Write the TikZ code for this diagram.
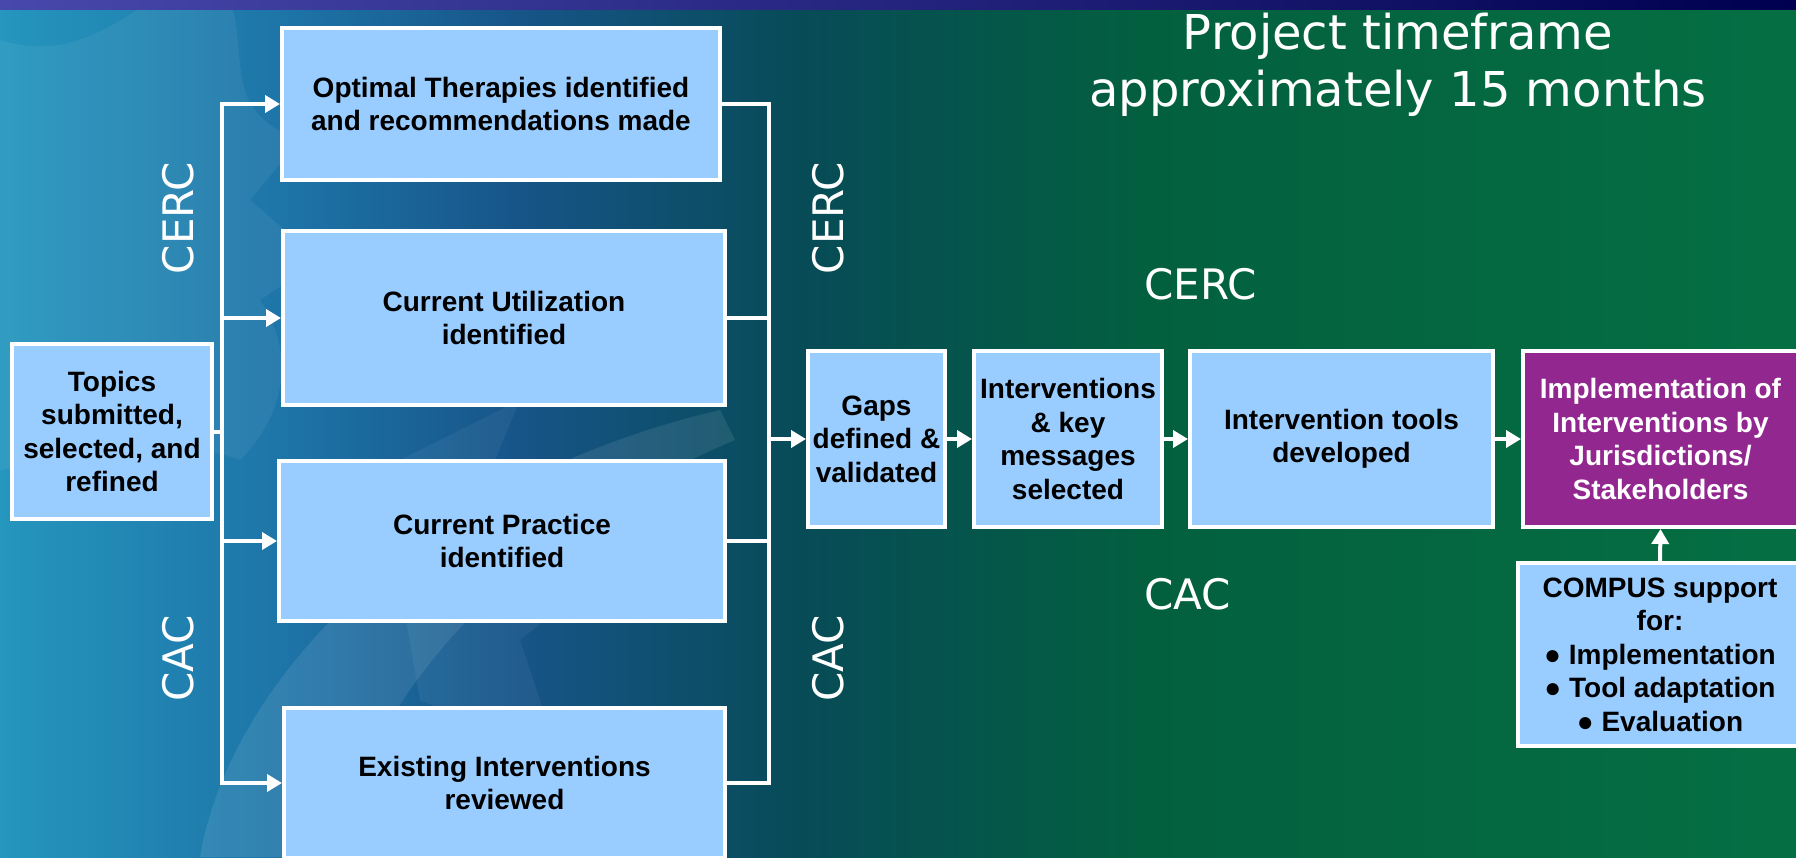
\documentclass[tikz,border=0pt]{standalone}
\usepackage{fontspec}
\setmainfont{Liberation Sans}
\newfontfamily\dejavu{DejaVu Sans}
\usetikzlibrary{arrows.meta}

\definecolor{boxblue}{HTML}{99CCFF}
\definecolor{implpurple}{HTML}{92278F}
\definecolor{bgA}{HTML}{2596BE}
\definecolor{bgB}{HTML}{1D72A6}
\definecolor{bgC}{HTML}{175488}
\definecolor{bgD}{HTML}{074B57}
\definecolor{bgE}{HTML}{03603F}
\definecolor{bgF}{HTML}{056F43}
\definecolor{bandL}{HTML}{4848AC}
\definecolor{bandM}{HTML}{1A1A80}
\definecolor{bandR}{HTML}{000050}

\newcommand\flowfont{\fontsize{28}{33.5}\selectfont\bfseries}
\newcommand\sidefont{\dejavu\fontsize{42}{50}\selectfont}
\newcommand\titlefont{\dejavu\fontsize{48}{57}\selectfont}

\tikzset{
  stagebox/.style={draw=white, line width=4pt, fill=boxblue, inner sep=0pt,
    align=center, font=\flowfont, text=black},
  flow/.style={draw=white, line width=4pt, line cap=rect},
  flowarrow/.style={draw=white, line width=4pt,
    -{Triangle[length=15pt,width=17pt]}},
  sidelabel/.style={text=white, font=\sidefont, inner sep=0pt},
}

\begin{document}
\begin{tikzpicture}[x=1pt,y=-1pt]
\useasboundingbox (0,0) rectangle (1796,857);
\clip (0,0) rectangle (1796,857);

% background: blue on the left fading through teal into green
\fill[left color=bgA, right color=bgB] (0,0) rectangle (301,857);
\fill[left color=bgB, right color=bgC] (300,0) rectangle (521,857);
\fill[left color=bgC, right color=bgD] (520,0) rectangle (801,857);
\fill[left color=bgD, right color=bgE] (800,0) rectangle (1151,857);
\fill[left color=bgE, right color=bgF] (1150,0) rectangle (1796,857);

% faint leaf and swirl motifs
\fill[white, opacity=0.06]
  (0,40) .. controls (60,60) and (110,30) .. (150,0) -- (230,0)
  .. controls (250,60) and (220,110) .. (300,140)
  -- (250,200) -- (320,260) -- (260,300) .. controls (300,360) and (280,420) .. (240,460)
  .. controls (160,430) and (80,460) .. (0,470) -- cycle;
\fill[white, opacity=0.09]
  (200,857) .. controls (230,680) and (420,480) .. (720,410)
  -- (735,440) .. controls (520,530) and (360,700) .. (340,857) -- cycle;
\fill[white, opacity=0.05]
  (380,470) -- (520,400) -- (470,520) -- (620,560) -- (520,640) -- (560,760)
  -- (420,700) -- cycle;

% top band
\fill[left color=bandL, middle color=bandM, right color=bandR] (0,0) rectangle (1796,9);

% title
\node[text=white, font=\titlefont, anchor=base, inner sep=0pt] (title1) at (1398,49) {Project timeframe};
\node[text=white, font=\titlefont, anchor=base, inner sep=0pt] (title2) at (1398,106) {approximately 15 months};

% committee labels
\node[sidelabel, rotate=90] (cercL) at (178,218) {CERC};
\node[sidelabel, rotate=90] (cacL) at (178,658) {CAC};
\node[sidelabel, rotate=90] (cercR) at (828,218) {CERC};
\node[sidelabel, rotate=90] (cacR) at (828,658) {CAC};
\node[sidelabel, anchor=west] (cercM) at (1144,284) {CERC};
\node[sidelabel, anchor=west] (cacM) at (1144,594) {CAC};

% stages
\node[stagebox, minimum width=200, minimum height=175] (topics) at (112,431.5)
  {Topics\\submitted,\\selected, and\\refined};
\node[stagebox, minimum width=438, minimum height=152] (opt) at (501,104)
  {Optimal Therapies identified\\and recommendations made};
\node[stagebox, minimum width=442, minimum height=174] (util) at (504,318)
  {Current Utilization\\identified};
\node[stagebox, minimum width=446, minimum height=160] (prac) at (502,541)
  {Current Practice\\identified};
\node[stagebox, minimum width=441, minimum height=150] (exist) at (504.5,783)
  {Existing Interventions\\reviewed};
\node[stagebox, minimum width=137, minimum height=176] (gaps) at (876.5,439)
  {Gaps\\defined \&\\validated};
\node[stagebox, minimum width=188, minimum height=176] (intv) at (1068,439)
  {Interventions\\\& key\\messages\\selected};
\node[stagebox, minimum width=303, minimum height=176] (tools) at (1341.5,439)
  {Intervention tools\\developed};
\node[stagebox, fill=implpurple, text=white, minimum width=275, minimum height=176] (impl) at (1660.5,439)
  {Implementation of\\Interventions by\\Jurisdictions/\\Stakeholders};
\node[stagebox, minimum width=284, minimum height=183] (compus) at (1660,654.5)
  {COMPUS support\\for:\\● Implementation\\● Tool adaptation\\● Evaluation};

% fan-out bus from the topics box
\coordinate (busL) at (222,0);
\draw[flow] (topics.east) -- (topics.east -| busL);
\draw[flow] (opt.west -| busL) -- (exist.west -| busL);
\draw[flowarrow] (opt.west -| busL) -- (opt.west);
\draw[flowarrow] (util.west -| busL) -- (util.west);
\draw[flowarrow] (prac.west -| busL) -- (prac.west);
\draw[flowarrow] (exist.west -| busL) -- (exist.west);

% fan-in bus towards the gap analysis
\coordinate (busR) at (769,0);
\draw[flow] (opt.east) -- (opt.east -| busR);
\draw[flow] (util.east) -- (util.east -| busR);
\draw[flow] (prac.east) -- (prac.east -| busR);
\draw[flow] (exist.east) -- (exist.east -| busR);
\draw[flow] (opt.east -| busR) -- (exist.east -| busR);
\draw[flowarrow] (gaps.west -| busR) -- (gaps.west);

% main chain
\draw[flowarrow] (gaps.east) -- (intv.west);
\draw[flowarrow] (intv.east) -- (tools.west);
\draw[flowarrow] (tools.east) -- (impl.west);
\draw[flowarrow] (compus.north) -- (impl.south);
\end{tikzpicture}
\end{document}
